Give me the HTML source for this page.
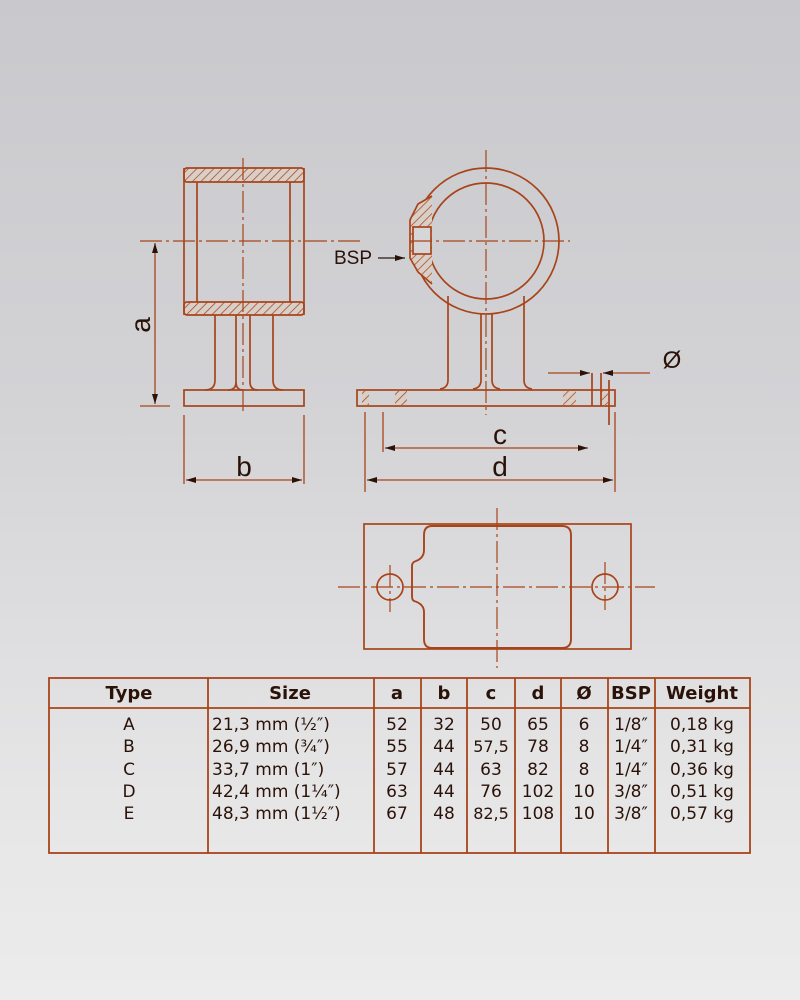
<!DOCTYPE html>
<html><head><style>
html,body{margin:0;padding:0}
body{width:800px;height:1000px;background:linear-gradient(#c9c9cd 0%,#d3d3d6 40%,#e6e6e7 80%,#ececec 100%);overflow:hidden}
svg{position:absolute;left:0;top:0}
</style></head><body>
<svg width="800" height="1000" viewBox="0 0 800 1000" xmlns="http://www.w3.org/2000/svg">
<defs>
<pattern id="h" width="6" height="6" patternUnits="userSpaceOnUse" patternTransform="rotate(45)">
<rect width="6" height="6" fill="#d8cfc8"/><line x1="0" y1="0" x2="0" y2="6" stroke="#a8461a" stroke-width="1.5"/>
</pattern>
<marker id="ar" markerWidth="10" markerHeight="6" refX="10" refY="3" orient="auto-start-reverse" markerUnits="userSpaceOnUse"><path d="M0,0 L10,3 L0,6 Z" fill="#2a1208"/></marker>
</defs>
<g fill="none" stroke="#a8441a" stroke-width="1.7">
<rect x="184" y="168" width="120" height="14" fill="url(#h)" rx="3"/>
<rect x="184" y="302" width="120" height="13" fill="url(#h)" rx="3"/>
<line x1="184" y1="168" x2="184" y2="315"/><line x1="304" y1="168" x2="304" y2="315"/>
<line x1="197" y1="182" x2="197" y2="302"/><line x1="290" y1="182" x2="290" y2="302"/>
<path d="M215,315 V380 Q215,390 205,390"/><path d="M273,315 V380 Q273,390 283,390"/>
<path d="M236,315 V382 Q236,390 228,390"/><path d="M250,315 V382 Q250,390 258,390"/>
<path d="M236,382 Q236,390 243,390"/>
<rect x="184" y="390" width="120" height="16"/>
<circle cx="486" cy="241" r="73"/>
<circle cx="486" cy="241" r="58"/>
<path d="M432,196 L418,204 L410,220 V258 L418,272 L432,284" fill="url(#h)"/>
<rect x="413" y="227" width="18" height="27" fill="#d6d6d8"/>
<path d="M448,296 V380 Q448,388 440,389"/><path d="M524,296 V380 Q524,388 532,389"/>
<path d="M481,313 V380 Q481,388 473,389"/><path d="M492,313 V380 Q492,388 500,389"/>
<rect x="357" y="390" width="258" height="16"/>
<rect x="362" y="391" width="7" height="14" fill="url(#h)" stroke="none"/>
<rect x="395" y="391" width="12" height="14" fill="url(#h)" stroke="none"/>
<rect x="563" y="391" width="13" height="14" fill="url(#h)" stroke="none"/>
<rect x="601" y="391" width="7" height="14" fill="url(#h)" stroke="none"/>
<line x1="592" y1="373" x2="592" y2="406"/><line x1="601" y1="373" x2="601" y2="406"/>
<line x1="609" y1="380" x2="609" y2="425"/>
<rect x="364" y="524" width="267" height="125"/>
<path d="M432,526 H562 Q571,526 571,535 V639 Q571,648 562,648 H432 Q424,648 424,639 V612 Q424,604 414,601 Q412,600 412,596 V566 Q412,562 416,561 Q424,558 424,550 V535 Q424,526 432,526 Z" stroke-width="1.9"/>
<circle cx="390" cy="587" r="13"/><circle cx="605" cy="587" r="13"/>
</g>
<g stroke="#a8441a" stroke-width="1.2" stroke-dasharray="22,4,3,4" fill="none">
<line x1="243" y1="158" x2="243" y2="415"/>
<line x1="140" y1="241" x2="360" y2="241"/>
<line x1="410" y1="241" x2="570" y2="241"/>
<line x1="486" y1="150" x2="486" y2="415"/>
<line x1="497" y1="508" x2="497" y2="668"/>
<line x1="338" y1="587" x2="655" y2="587"/>
<line x1="390" y1="565" x2="390" y2="612"/>
<line x1="605" y1="562" x2="605" y2="610"/>
</g>
<g stroke="#a8441a" stroke-width="1.3" fill="none">
<line x1="140" y1="406" x2="170" y2="406"/>
<line x1="155" y1="243" x2="155" y2="404" marker-start="url(#ar)" marker-end="url(#ar)"/>
<line x1="184" y1="415" x2="184" y2="484"/><line x1="304" y1="415" x2="304" y2="484"/>
<line x1="186" y1="480" x2="302" y2="480" marker-start="url(#ar)" marker-end="url(#ar)"/>
<line x1="383" y1="412" x2="383" y2="452"/>
<line x1="385" y1="448" x2="588" y2="448" marker-start="url(#ar)" marker-end="url(#ar)"/>
<line x1="365" y1="412" x2="365" y2="492"/><line x1="615" y1="412" x2="615" y2="492"/>
<line x1="367" y1="480" x2="613" y2="480" marker-start="url(#ar)" marker-end="url(#ar)"/>
<line x1="548" y1="373" x2="590" y2="373" marker-end="url(#ar)"/>
<line x1="650" y1="373" x2="603" y2="373" marker-end="url(#ar)"/>
<line x1="378" y1="258" x2="405" y2="258" marker-end="url(#ar)" stroke="#2a1a10"/>
</g>
<g font-family="'Liberation Sans',sans-serif" fill="#2a1208">
<text x="334" y="264" font-size="19">BSP</text>
<text x="150" y="325" font-size="28" transform="rotate(-90 150 325)" text-anchor="middle">a</text>
<text x="244" y="476" font-size="28" text-anchor="middle">b</text>
<text x="500" y="444" font-size="28" text-anchor="middle">c</text>
<text x="500" y="476" font-size="28" text-anchor="middle">d</text>
<text x="672" y="368" font-size="24" text-anchor="middle">Ø</text>
</g>
<g stroke="#a8441a" stroke-width="1.8" fill="none">
<rect x="49" y="678" width="701" height="175"/>
<line x1="49" y1="708" x2="750" y2="708"/>
<line x1="208" y1="678" x2="208" y2="853"/><line x1="374" y1="678" x2="374" y2="853"/>
<line x1="421" y1="678" x2="421" y2="853"/><line x1="467" y1="678" x2="467" y2="853"/>
<line x1="515" y1="678" x2="515" y2="853"/><line x1="561" y1="678" x2="561" y2="853"/>
<line x1="608" y1="678" x2="608" y2="853"/><line x1="655" y1="678" x2="655" y2="853"/>
</g>
<g font-family="'DejaVu Sans',sans-serif" fill="#2a1208" text-anchor="middle" font-size="17">
<g font-weight="bold" font-size="18">
<text x="129" y="699">Type</text><text x="290" y="699">Size</text><text x="397" y="699">a</text><text x="444" y="699">b</text><text x="491" y="699">c</text><text x="538" y="699">d</text><text x="584" y="699">Ø</text><text x="631" y="699">BSP</text><text x="702" y="699">Weight</text>
</g>
<text x="129" y="730">A</text><text x="129" y="752">B</text><text x="129" y="775">C</text><text x="129" y="797">D</text><text x="129" y="819">E</text>
<g text-anchor="start" textLength="140"><text x="212" y="730">21,3 mm (½″)</text><text x="212" y="752">26,9 mm (¾″)</text><text x="212" y="775">33,7 mm (1″)</text><text x="212" y="797">42,4 mm (1¼″)</text><text x="212" y="819">48,3 mm (1½″)</text></g>
<text x="397" y="730">52</text><text x="397" y="752">55</text><text x="397" y="775">57</text><text x="397" y="797">63</text><text x="397" y="819">67</text>
<text x="444" y="730">32</text><text x="444" y="752">44</text><text x="444" y="775">44</text><text x="444" y="797">44</text><text x="444" y="819">48</text>
<text x="491" y="730">50</text><text x="491" y="752" font-size="16">57,5</text><text x="491" y="775">63</text><text x="491" y="797">76</text><text x="491" y="819" font-size="16">82,5</text>
<text x="538" y="730">65</text><text x="538" y="752">78</text><text x="538" y="775">82</text><text x="538" y="797">102</text><text x="538" y="819">108</text>
<text x="584" y="730">6</text><text x="584" y="752">8</text><text x="584" y="775">8</text><text x="584" y="797">10</text><text x="584" y="819">10</text>
<text x="631" y="730">1/8″</text><text x="631" y="752">1/4″</text><text x="631" y="775">1/4″</text><text x="631" y="797">3/8″</text><text x="631" y="819">3/8″</text>
<text x="702" y="730">0,18 kg</text><text x="702" y="752">0,31 kg</text><text x="702" y="775">0,36 kg</text><text x="702" y="797">0,51 kg</text><text x="702" y="819">0,57 kg</text>
</g>
</svg>
</body></html>
